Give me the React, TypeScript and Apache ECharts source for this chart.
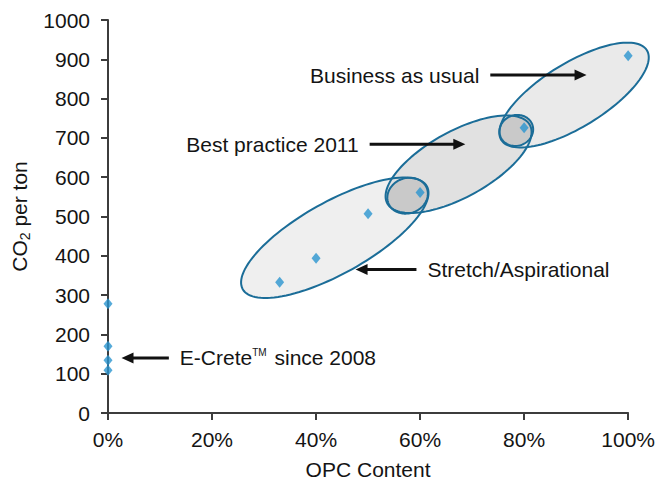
import React, { useEffect, useRef } from "react";
import * as echarts from "echarts";

// Scatter data: OPC content (%) vs CO2 per ton
const opcContent = [0, 0, 0, 0, 33, 40, 50, 60, 80, 100];
const co2PerTon = [278, 170, 134, 109, 333, 394, 507, 561, 726, 909];

// Axis ticks
const xTickValues = [0, 20, 40, 60, 80, 100];
const yTickValues = [0, 100, 200, 300, 400, 500, 600, 700, 800, 900, 1000];

// Ellipses in data units: centre, tip of the major axis, minor/major ratio
const ellipseNames = ["Stretch/Aspirational", "Best practice 2011", "Business as usual", "Overlap 60%", "Overlap 80%"];
const ellipseCenterX = [43.6, 67.4, 89.6, 57.6, 78.5];
const ellipseCenterY = [446, 633, 809, 553, 719];
const ellipseTipX = [61.3, 81.1, 103.6, 61.3, 81.6];
const ellipseTipY = [577, 733, 923, 572, 733];
const ellipseRatio = [0.34, 0.405, 0.374, 0.85, 0.9];

// Annotations (data units): arrow tail x, arrow head x, y
const annotationText = ["Business as usual", "Best practice 2011", "Stretch/Aspirational", "E-Crete{tm|TM} since 2008"];
const annotationTailX = [73.5, 50.3, 59.3, 11.7];
const annotationHeadX = [92.0, 68.7, 47.6, 2.6];
const annotationY = [860, 684, 365, 140];

const ellipseFills = ["#efefef", "#e1e1e1", "#eaeaea", "#c9c9c9", "#c9c9c9"];
const FONT = '"Liberation Sans", Arial, sans-serif';
const TEXT = "#141414";

export default function App() {
  const ref = useRef<HTMLDivElement>(null);

  useEffect(() => {
    if (!ref.current) return;
    const chart = echarts.init(ref.current, null, { renderer: "svg" });

    const ellipseData = ellipseNames.map((name, i) => ({
      name,
      value: [ellipseCenterX[i], ellipseCenterY[i], ellipseTipX[i], ellipseTipY[i], ellipseRatio[i]],
    }));

    const makeRender = (mode: "fill" | "stroke") => (params: any, api: any) => {
      const c = api.coord([api.value(0), api.value(1)]);
      const t = api.coord([api.value(2), api.value(3)]);
      const ratio = api.value(4);
      const dx = t[0] - c[0];
      const dy = t[1] - c[1];
      const a = Math.hypot(dx, dy);
      const th = Math.atan2(dy, dx);
      const b = a * ratio;
      const pts: number[][] = [];
      const n = 120;
      for (let k = 0; k < n; k++) {
        const u = (2 * Math.PI * k) / n;
        const ca = Math.cos(u) * a;
        const sb = Math.sin(u) * b;
        pts.push([c[0] + ca * Math.cos(th) - sb * Math.sin(th), c[1] + ca * Math.sin(th) + sb * Math.cos(th)]);
      }
      return {
        type: "polygon",
        shape: { points: pts },
        style:
          mode === "fill"
            ? { fill: ellipseFills[params.dataIndex], stroke: "none" }
            : { fill: "none", stroke: "#1b6d98", lineWidth: 2 },
      };
    };

    const axisColor = "#3c3c3c";

    chart.setOption({
      animation: false,
      backgroundColor: "#ffffff",
      grid: { left: 108, right: 29, top: 20, bottom: 73 },
      xAxis: {
        type: "value",
        min: xTickValues[0],
        max: xTickValues[xTickValues.length - 1],
        interval: xTickValues[1] - xTickValues[0],
        name: "OPC Content",
        nameLocation: "middle",
        nameGap: 46,
        nameTextStyle: { fontSize: 21, color: TEXT, fontFamily: FONT },
        axisLine: { show: true, lineStyle: { color: axisColor, width: 2 } },
        axisTick: { show: true, length: 7, lineStyle: { color: axisColor, width: 2 } },
        axisLabel: { formatter: (v: number) => `${v}%`, fontSize: 21, color: TEXT, fontFamily: FONT, margin: 16 },
        splitLine: { show: false },
      },
      yAxis: {
        type: "value",
        min: yTickValues[0],
        max: yTickValues[yTickValues.length - 1],
        interval: yTickValues[1] - yTickValues[0],
        name: "{a|CO}{sub|2}{a| per ton}",
        nameLocation: "middle",
        nameGap: 74,
        nameRotate: 90,
        nameTextStyle: {
          fontFamily: FONT,
          color: TEXT,
          rich: {
            a: { fontSize: 21, lineHeight: 25, color: TEXT, fontFamily: FONT },
            sub: { fontSize: 14, lineHeight: 14, verticalAlign: "bottom", color: TEXT, fontFamily: FONT },
          },
        },
        axisLine: { show: true, lineStyle: { color: axisColor, width: 2 } },
        axisTick: { show: true, length: 7, lineStyle: { color: axisColor, width: 2 } },
        axisLabel: { formatter: (v: number) => String(v), fontSize: 21, color: TEXT, fontFamily: FONT, margin: 18 },
        splitLine: { show: false },
      },
      series: [
        {
          type: "custom",
          name: "ellipse fills",
          renderItem: makeRender("fill"),
          data: ellipseData,
          encode: { x: 0, y: 1 },
          clip: false,
          silent: true,
          z: 1,
        },
        {
          type: "custom",
          name: "ellipse outlines",
          renderItem: makeRender("stroke"),
          data: ellipseData,
          encode: { x: 0, y: 1 },
          clip: false,
          silent: true,
          z: 2,
        },
        {
          type: "scatter",
          name: "CO2 per ton",
          data: opcContent.map((x, i) => [x, co2PerTon[i]]),
          symbol: "diamond",
          symbolSize: [9, 11],
          itemStyle: { color: "#2b95d0" },
          clip: false,
          z: 3,
        },
      ],
    });

    const graphics: any[] = [];
    annotationText.forEach((text, i) => {
      const tail = chart.convertToPixel({ gridIndex: 0 }, [annotationTailX[i], annotationY[i]]) as number[];
      const head = chart.convertToPixel({ gridIndex: 0 }, [annotationHeadX[i], annotationY[i]]) as number[];
      const dir = head[0] > tail[0] ? 1 : -1;
      const headLen = 12;
      const headHalf = 5.5;
      const y = tail[1];
      graphics.push({
        type: "line",
        shape: { x1: tail[0], y1: y, x2: head[0] - dir * (headLen - 1), y2: y },
        style: { stroke: "#111111", lineWidth: 3 },
        z: 10,
      });
      graphics.push({
        type: "polygon",
        shape: {
          points: [
            [head[0], y],
            [head[0] - dir * headLen, y - headHalf],
            [head[0] - dir * headLen, y + headHalf],
          ],
        },
        style: { fill: "#111111" },
        z: 10,
      });
      graphics.push({
        type: "text",
        x: tail[0] - dir * 11,
        y: y,
        style: {
          text,
          fontSize: 21,
          fontFamily: FONT,
          fill: TEXT,
          align: dir > 0 ? "right" : "left",
          verticalAlign: "middle",
          rich: {
            tm: { fontSize: 10, lineHeight: 21, verticalAlign: "top", fontFamily: FONT, fill: TEXT, padding: [0, 2, 8, 0] },
          },
        },
        z: 10,
      });
    });
    chart.setOption({ graphic: graphics });

    return () => chart.dispose();
  }, []);

  return (
    <div
      ref={ref}
      style={{ position: "fixed", left: 0, top: 0, width: 658, height: 486, background: "#fff" }}
    />
  );
}
